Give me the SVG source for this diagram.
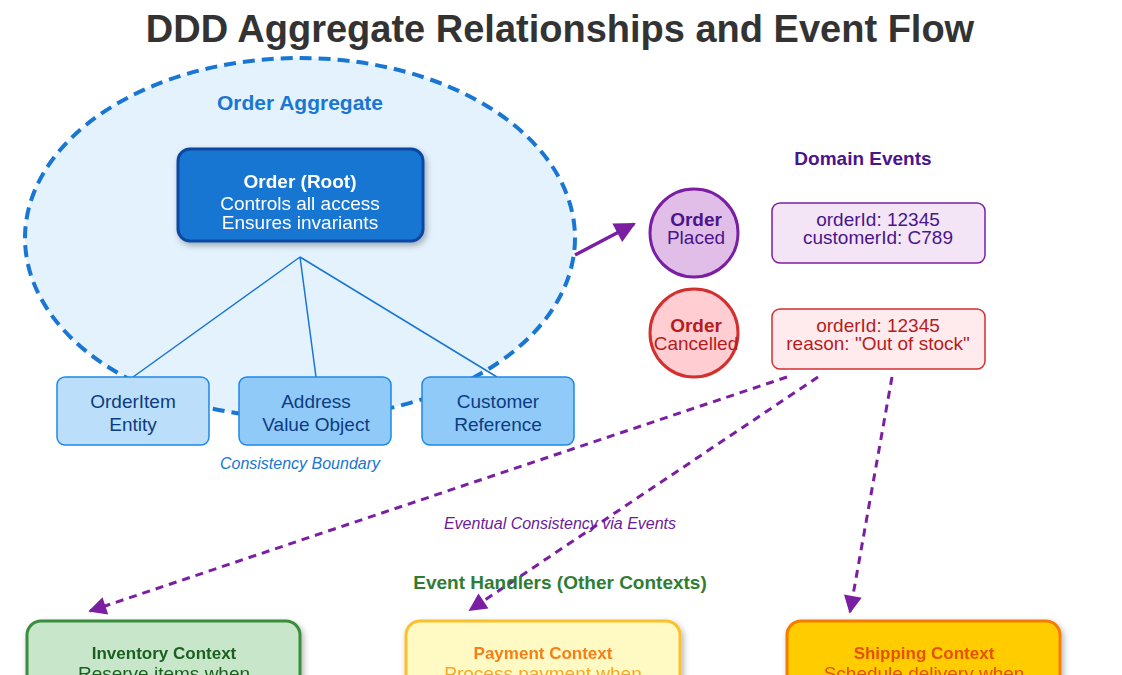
<svg xmlns="http://www.w3.org/2000/svg" width="1122" height="675" viewBox="0 0 1122 675">
<style>
text{font-family:"Liberation Sans",Arial,sans-serif;text-anchor:middle}
.ent{stroke:#1e88e5;stroke-width:1.5}
.et{font-size:19px;fill:#0d3c80}
.dash{fill:none;stroke:#7b1fa2;stroke-width:3;stroke-dasharray:8 6}
</style>
<defs>
<marker id="ah" viewBox="0 0 10 10" refX="9" refY="5" markerWidth="7" markerHeight="6" orient="auto"><path d="M0,0L10,5L0,10z" fill="#7b1fa2"/></marker>
<filter id="sh" x="-20%" y="-20%" width="140%" height="150%"><feDropShadow dx="2" dy="3" stdDeviation="3" flood-opacity="0.3"/></filter>
</defs>
<rect width="1122" height="675" fill="#fff"/>
<text x="560" y="42" font-size="38" font-weight="bold" fill="#333">DDD Aggregate Relationships and Event Flow</text>
<g id="aggregate">
<ellipse cx="300" cy="238" rx="275" ry="180" fill="#e3f2fd" stroke="#1976d2" stroke-width="4" stroke-dasharray="12 7"/>
<text x="300" y="110" font-size="21" font-weight="bold" fill="#1976d2">Order Aggregate</text>
<text x="300" y="469" font-size="16" font-style="italic" fill="#1976d2">Consistency Boundary</text>
</g>
<g id="connectors">
<path d="M300,257L133,377M300,257L316,377M300,257L497,377" stroke="#1976d2" stroke-width="1.5" fill="none"/>
<path d="M575,255L634,224" stroke="#7b1fa2" stroke-width="3.5" marker-end="url(#ah)"/>
<path class="dash" d="M787,377L90,611" marker-end="url(#ah)"/>
<path class="dash" d="M818,377L470,610" marker-end="url(#ah)"/>
<path class="dash" d="M892,377L850,612" marker-end="url(#ah)"/>
<text x="560" y="529" font-size="16" font-style="italic" fill="#6a1b9a">Eventual Consistency via Events</text>
</g>
<g id="root" filter="url(#sh)">
<rect x="178" y="149" width="245" height="92" rx="12" fill="#1976d2" stroke="#0d47a1" stroke-width="3"/>
<text x="300" y="188" font-size="19" font-weight="bold" fill="#fff">Order (Root)</text>
<text x="300" y="210" font-size="19" fill="#fff">Controls all access</text>
<text x="300" y="229" font-size="19" fill="#fff">Ensures invariants</text>
</g>
<g id="orderitem"><rect class="ent" x="57" y="377" width="152" height="68" rx="8" fill="#bbdefb"/><text class="et" x="133" y="408">OrderItem</text><text class="et" x="133" y="431">Entity</text></g>
<g id="address"><rect class="ent" x="239" y="377" width="152" height="68" rx="8" fill="#90caf9"/><text class="et" x="316" y="408">Address</text><text class="et" x="316" y="431">Value Object</text></g>
<g id="customer"><rect class="ent" x="422" y="377" width="152" height="68" rx="8" fill="#90caf9"/><text class="et" x="498" y="408">Customer</text><text class="et" x="498" y="431">Reference</text></g>
<text x="863" y="165" font-size="19" font-weight="bold" fill="#4a148c">Domain Events</text>
<g id="placed"><circle cx="694" cy="233" r="44" fill="#e1bee7" stroke="#7b1fa2" stroke-width="3"/><text x="696" y="226" font-size="19" font-weight="bold" fill="#4a148c">Order</text><text x="696" y="244" font-size="19" fill="#4a148c">Placed</text></g>
<g id="placeddata"><rect x="772" y="203" width="213" height="60" rx="8" fill="#f3e5f5" stroke="#7b1fa2" stroke-width="1.5"/><text x="878" y="226" font-size="19" fill="#4a148c">orderId: 12345</text><text x="878" y="244" font-size="19" fill="#4a148c">customerId: C789</text></g>
<g id="cancelled"><circle cx="694" cy="333" r="44" fill="#ffcdd2" stroke="#d32f2f" stroke-width="3"/><text x="696" y="332" font-size="19" font-weight="bold" fill="#b71c1c">Order</text><text x="696" y="350" font-size="19" fill="#b71c1c">Cancelled</text></g>
<g id="cancelleddata"><rect x="772" y="309" width="213" height="60" rx="8" fill="#ffebee" stroke="#d32f2f" stroke-width="1.5"/><text x="878" y="332" font-size="19" fill="#b71c1c">orderId: 12345</text><text x="878" y="350" font-size="19" fill="#b71c1c">reason: "Out of stock"</text></g>
<text x="560" y="589" font-size="19" font-weight="bold" fill="#2e7d32">Event Handlers (Other Contexts)</text>
<g id="inventory" filter="url(#sh)"><rect x="27" y="621" width="273" height="100" rx="14" fill="#c8e6c9" stroke="#388e3c" stroke-width="3"/><text x="164" y="659" font-size="17" font-weight="bold" fill="#1b5e20">Inventory Context</text><text x="164" y="680" font-size="19" fill="#1b5e20">Reserve items when</text></g>
<g id="payment" filter="url(#sh)"><rect x="406" y="621" width="274" height="100" rx="14" fill="#fff9c4" stroke="#fbc02d" stroke-width="3"/><text x="543" y="659" font-size="17" font-weight="bold" fill="#f57f17">Payment Context</text><text x="543" y="680" font-size="19" fill="#f9a825">Process payment when</text></g>
<g id="shipping" filter="url(#sh)"><rect x="787" y="621" width="273" height="100" rx="14" fill="#ffcc00" stroke="#f57c00" stroke-width="3"/><text x="924" y="659" font-size="17" font-weight="bold" fill="#e65100">Shipping Context</text><text x="924" y="680" font-size="19" fill="#e65100">Schedule delivery when</text></g>
</svg>
